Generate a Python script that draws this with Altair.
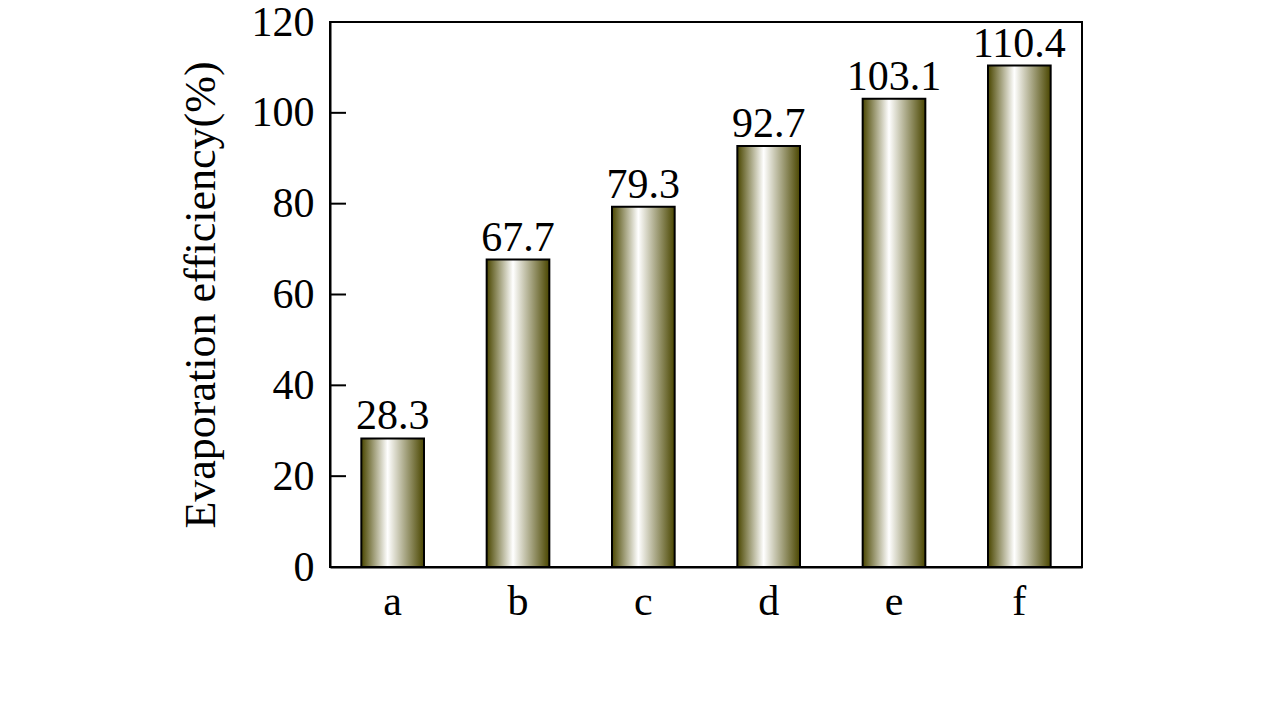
import altair as alt
import pandas as pd

categories = ["a", "b", "c", "d", "e", "f"]
values = [28.3, 67.7, 79.3, 92.7, 103.1, 110.4]
y_ticks = [0, 20, 40, 60, 80, 100, 120]

df = pd.DataFrame({"cat": categories, "val": values})
ticks_df = pd.DataFrame({"t": y_ticks})

FONT = "Liberation Serif"
olive = "#4a4600"

gradient = alt.Gradient(
    gradient="linear",
    stops=[
        alt.GradientStop(color=olive, offset=0),
        alt.GradientStop(color="#ffffff", offset=0.42),
        alt.GradientStop(color=olive, offset=1),
    ],
    x1=0, x2=1, y1=0, y2=0,
)

x_enc = alt.X(
    "cat:N",
    sort=categories,
    scale=alt.Scale(paddingInner=0.5, paddingOuter=0.25),
    axis=alt.Axis(
        title=None, labelAngle=0, ticks=False, labelFont=FONT, labelFontSize=42,
        labelColor="black", labelPadding=14, domainColor="black", domainWidth=2,
    ),
)
y_scale = alt.Scale(domain=[0, 120], nice=False)

bars = alt.Chart(df).mark_bar(
    fill=gradient, stroke="black", strokeWidth=2
).encode(
    x=x_enc,
    y=alt.Y(
        "val:Q",
        scale=y_scale,
        axis=alt.Axis(
            title="Evaporation efficiency(%)", values=y_ticks, ticks=False, grid=False,
            labelFont=FONT, labelFontSize=42, labelColor="black", labelPadding=16,
            titleFont=FONT, titleFontSize=44, titleFontWeight="normal",
            titleColor="black", titlePadding=28, domainColor="black", domainWidth=2,
        ),
    ),
)

labels = alt.Chart(df).mark_text(
    font=FONT, fontSize=42, color="black", baseline="alphabetic", dy=-9
).encode(
    x=alt.X("cat:N", sort=categories),
    y=alt.Y("val:Q", scale=y_scale),
    text=alt.Text("val:Q", format=".1f"),
)

tick_marks = alt.Chart(ticks_df).mark_rule(color="black", strokeWidth=2).encode(
    x=alt.value(0), x2=alt.value(16),
    y=alt.Y("t:Q", scale=y_scale),
)

chart = alt.layer(bars, labels, tick_marks).properties(
    width=752, height=545,
    autosize=alt.AutoSizeParams(type="none"),
    padding={"left": 322, "top": 14, "right": 180, "bottom": 130},
    background="white",
).configure_view(stroke="black", strokeWidth=2)

chart.save("out.html", embed_options={"renderer": "svg", "actions": False})
